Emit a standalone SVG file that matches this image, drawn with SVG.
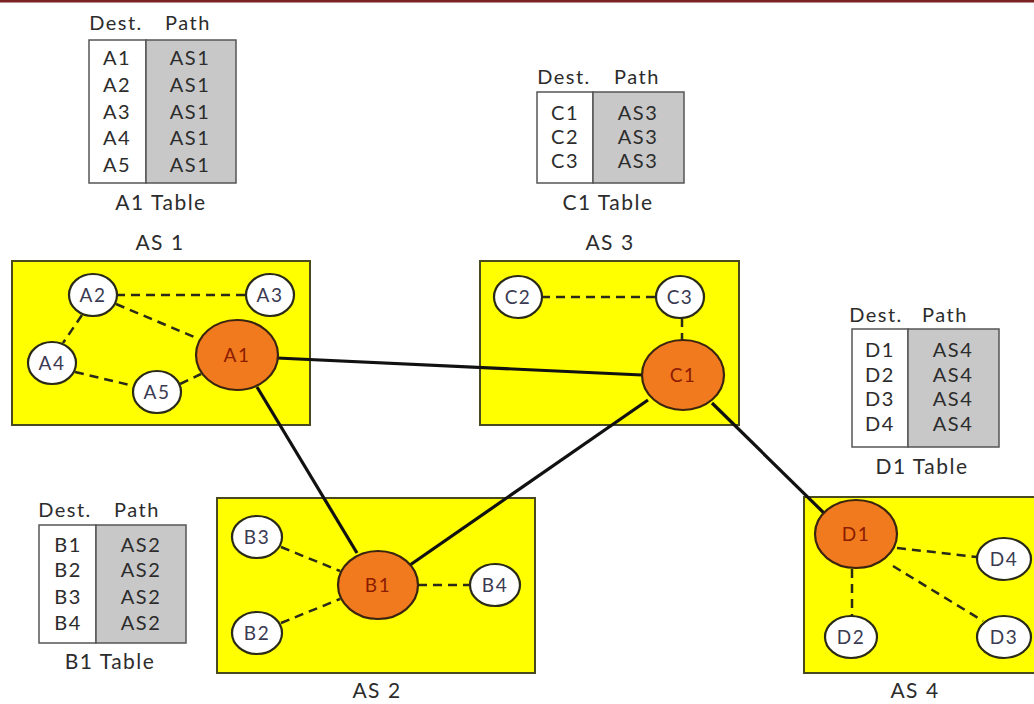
<svg xmlns="http://www.w3.org/2000/svg" width="1034" height="704" viewBox="0 0 1034 704">
<style>
text{font-family:Lato,"Open Sans","Liberation Sans",sans-serif;text-anchor:middle;letter-spacing:1.5px}
.tt{font-size:20px;fill:#2c2c2c}
.cap{font-size:21px;fill:#2c2c2c}
.as{fill:#ffff00;stroke:#4a4a20;stroke-width:2}
.tw{fill:#fff;stroke:#555;stroke-width:1.5}
.tg{fill:#c8c8c8;stroke:#555;stroke-width:1.5}
.wn{fill:#fff;stroke:#2a2a18;stroke-width:2.2}
.on{fill:#f27a1e;stroke:#3a2410;stroke-width:2.2}
.wl{font-size:19px;fill:#3a3a52}
.ol{font-size:19px;fill:#8a1c00}
.d{stroke:#2a2a18;stroke-width:2.5;stroke-dasharray:9 6;fill:none}
.s{stroke:#111;stroke-width:3.2;fill:none}
</style>
<rect x="0" y="0" width="1034" height="704" fill="#fff"/>
<rect x="0" y="0" width="1034" height="2.5" fill="#7a2222"/>

<!-- AS boxes -->
<g id="as1"><rect class="as" x="12" y="261" width="298" height="164"/><text class="cap" x="160" y="250">AS 1</text></g>
<g id="as3"><rect class="as" x="480" y="261" width="259" height="164"/><text class="cap" x="610" y="250">AS 3</text></g>
<g id="as2"><rect class="as" x="217" y="498" width="318" height="175"/><text class="cap" x="377" y="698">AS 2</text></g>
<g id="as4"><rect class="as" x="804" y="497" width="240" height="176"/><text class="cap" x="915" y="698">AS 4</text></g>

<!-- Tables -->
<g id="tableA1">
<text class="tt" x="116" y="30">Dest.</text><text class="tt" x="188" y="30">Path</text>
<rect class="tw" x="89" y="40" width="57" height="143"/><rect class="tg" x="146" y="40" width="90" height="143"/>
<text class="tt" x="117" y="65">A1</text><text class="tt" x="190" y="65">AS1</text>
<text class="tt" x="117" y="92">A2</text><text class="tt" x="190" y="92">AS1</text>
<text class="tt" x="117" y="119">A3</text><text class="tt" x="190" y="119">AS1</text>
<text class="tt" x="117" y="145">A4</text><text class="tt" x="190" y="145">AS1</text>
<text class="tt" x="117" y="172">A5</text><text class="tt" x="190" y="172">AS1</text>
<text class="cap" x="161" y="210">A1 Table</text>
</g>
<g id="tableC1">
<text class="tt" x="564" y="84">Dest.</text><text class="tt" x="637" y="84">Path</text>
<rect class="tw" x="537" y="92" width="56" height="91"/><rect class="tg" x="593" y="92" width="91" height="91"/>
<text class="tt" x="565" y="120">C1</text><text class="tt" x="638" y="120">AS3</text>
<text class="tt" x="565" y="144">C2</text><text class="tt" x="638" y="144">AS3</text>
<text class="tt" x="565" y="168">C3</text><text class="tt" x="638" y="168">AS3</text>
<text class="cap" x="608" y="210">C1 Table</text>
</g>
<g id="tableD1">
<text class="tt" x="876" y="322">Dest.</text><text class="tt" x="945" y="322">Path</text>
<rect class="tw" x="852" y="329" width="56" height="118"/><rect class="tg" x="908" y="329" width="91" height="118"/>
<text class="tt" x="880" y="357">D1</text><text class="tt" x="953" y="357">AS4</text>
<text class="tt" x="880" y="382">D2</text><text class="tt" x="953" y="382">AS4</text>
<text class="tt" x="880" y="406">D3</text><text class="tt" x="953" y="406">AS4</text>
<text class="tt" x="880" y="431">D4</text><text class="tt" x="953" y="431">AS4</text>
<text class="cap" x="922" y="474">D1 Table</text>
</g>
<g id="tableB1">
<text class="tt" x="65" y="517">Dest.</text><text class="tt" x="137" y="517">Path</text>
<rect class="tw" x="39" y="525" width="57" height="118"/><rect class="tg" x="96" y="525" width="90" height="118"/>
<text class="tt" x="68" y="552">B1</text><text class="tt" x="141" y="552">AS2</text>
<text class="tt" x="68" y="577">B2</text><text class="tt" x="141" y="577">AS2</text>
<text class="tt" x="68" y="604">B3</text><text class="tt" x="141" y="604">AS2</text>
<text class="tt" x="68" y="630">B4</text><text class="tt" x="141" y="630">AS2</text>
<text class="cap" x="110" y="669">B1 Table</text>
</g>

<!-- connectors -->
<g id="connectors">
<line class="d" x1="116" y1="295" x2="247" y2="295"/>
<line class="d" x1="116" y1="304" x2="199" y2="339"/>
<line class="d" x1="82" y1="315" x2="63" y2="343"/>
<line class="d" x1="75" y1="372" x2="134" y2="386"/>
<line class="d" x1="180" y1="384" x2="201" y2="374"/>
<line class="d" x1="541" y1="297" x2="657" y2="297"/>
<line class="d" x1="682" y1="318" x2="682" y2="341"/>
<line class="d" x1="281" y1="547" x2="340" y2="571"/>
<line class="d" x1="281" y1="623" x2="340" y2="599"/>
<line class="d" x1="418" y1="585" x2="469" y2="585"/>
<line class="d" x1="897" y1="548" x2="977" y2="557"/>
<line class="d" x1="893" y1="566" x2="983" y2="621"/>
<line class="d" x1="852" y1="569" x2="852" y2="616"/>
<line class="s" x1="277" y1="358" x2="642" y2="375"/>
<line class="s" x1="257" y1="387" x2="357" y2="553"/>
<line class="s" x1="648" y1="400" x2="410" y2="565"/>
<line class="s" x1="712" y1="403" x2="828" y2="517"/>
</g>

<!-- nodes -->
<g id="A1"><ellipse class="on" cx="237" cy="355" rx="41" ry="35"/><text class="ol" x="237" y="362">A1</text></g>
<g id="A2"><ellipse class="wn" cx="93" cy="295" rx="24" ry="21"/><text class="wl" x="93" y="302">A2</text></g>
<g id="A3"><ellipse class="wn" cx="270" cy="295" rx="24" ry="21"/><text class="wl" x="270" y="302">A3</text></g>
<g id="A4"><ellipse class="wn" cx="52" cy="363" rx="24" ry="21"/><text class="wl" x="52" y="370">A4</text></g>
<g id="A5"><ellipse class="wn" cx="157" cy="392" rx="24" ry="21"/><text class="wl" x="157" y="399">A5</text></g>
<g id="C1"><ellipse class="on" cx="683" cy="375" rx="41" ry="35"/><text class="ol" x="683" y="382">C1</text></g>
<g id="C2"><ellipse class="wn" cx="518" cy="297" rx="24" ry="21"/><text class="wl" x="518" y="304">C2</text></g>
<g id="C3"><ellipse class="wn" cx="680" cy="297" rx="24" ry="21"/><text class="wl" x="680" y="304">C3</text></g>
<g id="B1"><ellipse class="on" cx="378" cy="585" rx="40" ry="34"/><text class="ol" x="378" y="592">B1</text></g>
<g id="B2"><ellipse class="wn" cx="257" cy="633" rx="25" ry="21"/><text class="wl" x="257" y="640">B2</text></g>
<g id="B3"><ellipse class="wn" cx="257" cy="537" rx="25" ry="21"/><text class="wl" x="257" y="544">B3</text></g>
<g id="B4"><ellipse class="wn" cx="495" cy="585" rx="25" ry="21"/><text class="wl" x="495" y="592">B4</text></g>
<g id="D1"><ellipse class="on" cx="856" cy="534" rx="41" ry="34"/><text class="ol" x="856" y="541">D1</text></g>
<g id="D2"><ellipse class="wn" cx="851" cy="637" rx="26" ry="21"/><text class="wl" x="851" y="644">D2</text></g>
<g id="D3"><ellipse class="wn" cx="1004" cy="637" rx="27" ry="21"/><text class="wl" x="1004" y="644">D3</text></g>
<g id="D4"><ellipse class="wn" cx="1004" cy="559" rx="27" ry="21"/><text class="wl" x="1004" y="566">D4</text></g>
</svg>
